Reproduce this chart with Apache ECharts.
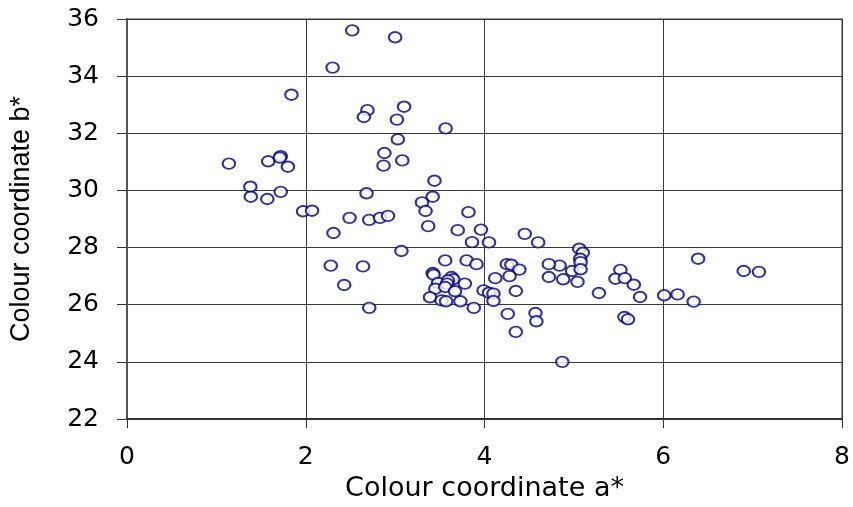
<!DOCTYPE html>
<html>
<head>
<meta charset="utf-8">
<script src="https://cdn.jsdelivr.net/npm/echarts@6/dist/echarts.min.js"></script>
<style>
html,body{margin:0;padding:0;background:#fff;}
#chart{width:853px;height:507px;}
</style>
</head>
<body>
<div id="chart"></div>
<script>
// Colour coordinate a* (x) values
const aValues = [
  2.52, 3.00, 2.30, 1.84, 2.69, 2.65, 3.10, 3.02, 3.565, 3.03,
  2.88, 3.08, 2.87, 1.14, 1.58, 1.72, 1.80, 1.38, 1.385, 1.72,
  1.57, 1.97, 2.07, 2.49, 2.71, 2.83, 2.92, 2.68, 3.44, 3.42,
  3.30, 3.34, 3.82, 2.31, 3.37, 3.70, 3.96, 3.86, 4.05, 4.45,
  4.60, 3.07, 5.06, 5.10, 5.07, 5.075, 4.98, 5.075, 4.84, 4.72,
  4.88, 5.04, 4.72, 2.28, 2.64, 3.56, 3.80, 3.91, 4.25, 4.30,
  4.39, 3.42, 3.43, 3.63, 3.65, 3.59, 4.12, 4.28, 3.48, 3.58,
  3.78, 3.45, 3.56, 3.67, 3.99, 4.05, 4.10, 4.35, 3.39, 3.52,
  3.57, 3.73, 4.10, 3.88, 2.71, 2.43, 4.26, 4.57, 4.58, 4.35,
  4.87, 5.52, 5.465, 5.57, 5.67, 5.74, 5.28, 6.01, 6.16, 6.34,
  6.39, 6.90, 7.07, 5.565, 5.605, 1.71
];
// Colour coordinate b* (y) values
const bValues = [
  35.60, 35.36, 34.30, 33.35, 32.81, 32.57, 32.93, 32.48, 32.17, 31.79,
  31.31, 31.05, 30.87, 30.94, 31.02, 31.20, 30.83, 30.13, 29.78, 29.95,
  29.70, 29.27, 29.29, 29.04, 28.97, 29.04, 29.11, 29.90, 30.34, 29.78,
  29.58, 29.28, 29.24, 28.51, 28.75, 28.61, 28.63, 28.19, 28.18, 28.48,
  28.18, 27.88, 27.96, 27.82, 27.61, 27.49, 27.18, 27.24, 27.37, 27.42,
  26.89, 26.80, 26.97, 27.37, 27.34, 27.55, 27.55, 27.42, 27.42, 27.40,
  27.23, 27.11, 27.05, 26.97, 26.89, 26.85, 26.93, 27.00, 26.76, 26.74,
  26.74, 26.56, 26.62, 26.47, 26.50, 26.42, 26.39, 26.48, 26.26, 26.15,
  26.12, 26.12, 26.13, 25.89, 25.89, 26.69, 25.68, 25.71, 25.42, 25.05,
  24.00, 27.22, 26.91, 26.93, 26.70, 26.27, 26.41, 26.33, 26.36, 26.11,
  27.61, 27.18, 27.15, 25.57, 25.49, 31.15
];
const xAxisTitle = 'Colour coordinate a*';
const yAxisTitle = 'Colour coordinate b*';

const points = aValues.map((a, i) => [a, bValues[i]]);
const wideFont = 'DejaVu Sans, Liberation Sans, sans-serif';
const font = 'Liberation Sans, Arial, sans-serif';

const chart = echarts.init(document.getElementById('chart'), null, {renderer: 'canvas'});
chart.setOption({
  animation: false,
  backgroundColor: '#ffffff',
  grid: {
    left: 125, right: 4, top: 19, bottom: 86,
    show: true, borderColor: '#9a9a9a', borderWidth: 2, backgroundColor: 'transparent'
  },
  xAxis: {
    type: 'value', min: 0, max: 8, interval: 2,
    name: xAxisTitle, nameLocation: 'middle', nameGap: 56,
    nameTextStyle: {fontFamily: wideFont, fontSize: 27, color: '#000'},
    axisLine: {show: true, onZero: false, lineStyle: {color: '#333', width: 2}},
    axisTick: {show: true, inside: false, length: 9, lineStyle: {color: '#333', width: 1}},
    axisLabel: {fontFamily: wideFont, fontSize: 25, color: '#000', margin: 26},
    splitLine: {show: true, lineStyle: {color: '#3a3a3a', width: 1}}
  },
  yAxis: {
    type: 'value', min: 22, max: 36, interval: 2,
    name: yAxisTitle, nameLocation: 'middle', nameGap: 92, nameRotate: 90,
    nameTextStyle: {fontFamily: font, fontSize: 27, color: '#000'},
    axisLine: {show: true, onZero: false, lineStyle: {color: '#555', width: 2}},
    axisTick: {show: true, inside: false, length: 10, lineStyle: {color: '#333', width: 1}},
    axisLabel: {fontFamily: wideFont, fontSize: 25, color: '#000', margin: 28},
    splitLine: {show: true, lineStyle: {color: '#3a3a3a', width: 1}}
  },
  series: [{
    type: 'scatter',
    data: points,
    symbol: 'emptyCircle',
    symbolSize: [12.5, 10.5],
    itemStyle: {color: '#000080', borderColor: '#000080', borderWidth: 2.7},
    emphasis: {disabled: true}
  }]
});
</script>
</body>
</html>
